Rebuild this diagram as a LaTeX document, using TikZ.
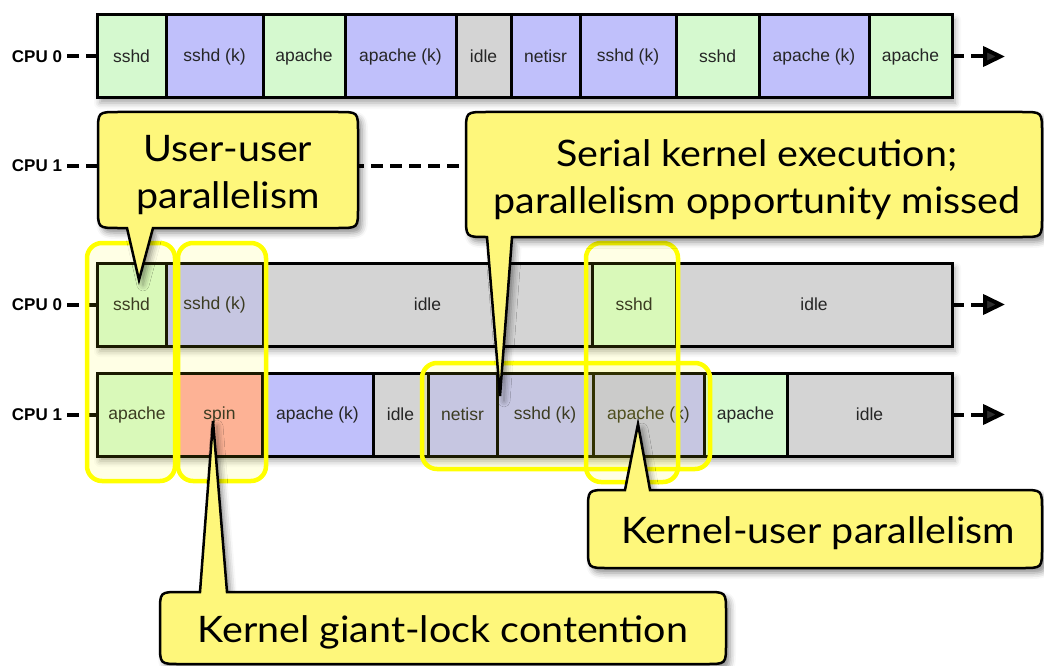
\documentclass[tikz,border=0pt]{standalone}
\usepackage{fontspec}
\setmainfont{Liberation Sans}
\newfontfamily\callfont{Lato}[FakeStretch=1.08]
\usetikzlibrary{shadows.blur,arrows.meta}

\definecolor{usr}{RGB}{213,249,207}
\definecolor{krn}{RGB}{192,192,251}
\definecolor{idl}{RGB}{212,212,212}
\definecolor{spn}{RGB}{253,170,166}
\definecolor{hil}{RGB}{255,255,0}
\definecolor{bub}{RGB}{254,247,123}

\tikzset{
  cellbox/.style={draw=black, line width=3pt, rectangle, minimum height=83pt,
    inner sep=0pt, outer sep=0pt, anchor=north west, text=black!85,
    font=\fontsize{17.5}{20}\selectfont},
  cpulabel/.style={anchor=east, inner sep=0pt, outer sep=0pt,
    font=\fontsize{17}{20}\selectfont\bfseries},
  timeline/.style={line width=4pt, dash pattern=on 12pt off 7pt, shorten <=5pt},
  rowshade/.style={fill=white, blur shadow={shadow xshift=3pt, shadow yshift=-5pt,
    shadow blur radius=6pt, shadow opacity=35}},
  hilite/.style={draw=hil, line width=4.5pt, rounded corners=15pt, fill=hil, fill opacity=0.1},
  bubble/.style={draw=black, line width=2.5pt, fill=bub, line join=miter,
    blur shadow={shadow xshift=4pt, shadow yshift=-5pt, shadow blur radius=6pt, shadow opacity=45}},
  bubtext/.style={font=\callfont\fontsize{36.5}{47}\selectfont, align=center, inner sep=0pt},
}

% name, left x, right x, top y, fill, label
\newcommand\cpucell[6]{\node[cellbox, fill=#5, minimum width={#3pt-#2pt}] (#1) at (#2,#4) {#6};}

\begin{document}
\begin{tikzpicture}[x=1pt, y=-1pt]
\useasboundingbox (0,0) rectangle (1044,666);

% ---------- upper trace: CPU 0 busy, CPU 1 idle ----------
\path[rowshade] (97,15) rectangle (952,98);
\cpucell{a1}{97}{166}{15}{usr}{sshd}
\cpucell{a2}{166}{263}{15}{krn}{sshd (k)}
\cpucell{a3}{263}{345}{15}{usr}{apache}
\cpucell{a4}{345}{456}{15}{krn}{apache (k)}
\cpucell{a5}{456}{511}{15}{idl}{idle}
\cpucell{a6}{511}{580}{15}{krn}{netisr}
\cpucell{a7}{580}{676}{15}{krn}{sshd (k)}
\cpucell{a8}{676}{759}{15}{usr}{sshd}
\cpucell{a9}{759}{869}{15}{krn}{apache (k)}
\cpucell{a10}{869}{952}{15}{usr}{apache}

\node[cpulabel] (la0) at (62,56.5) {CPU 0};
\node[cpulabel] (la1) at (62,166) {CPU 1};
\coordinate (ea0) at (1005,56.5);
\coordinate (ea1) at (952,166);
\draw[timeline] (la0.east) -- (a1.west);
\draw[timeline, shorten <=0pt, -{Triangle[length=22pt,width=20pt]}] (a10.east) -- (ea0);
\draw[timeline] (la1.east) -- (ea1);

% ---------- lower trace: both CPUs ----------
\path[rowshade] (97,263) rectangle (952,346);
\path[rowshade] (97,373) rectangle (952,456);
\cpucell{b1}{97}{166}{263}{usr}{sshd}
\cpucell{b2}{166}{263}{263}{krn}{sshd (k)}
\cpucell{b3}{263}{592}{263}{idl}{idle}
\cpucell{b4}{592}{676}{263}{usr}{sshd}
\cpucell{b5}{676}{952}{263}{idl}{idle}

\cpucell{c1}{97}{177}{373}{usr}{apache}
\cpucell{c2}{177}{262}{373}{spn}{spin}
\cpucell{c3}{262}{373}{373}{krn}{apache (k)}
\cpucell{c4}{373}{428}{373}{idl}{idle}
\cpucell{c5}{428}{497}{373}{krn}{netisr}
\cpucell{c6}{497}{593}{373}{krn}{sshd (k)}
\cpucell{c7}{593}{704}{373}{krn}{apache (k)}
\cpucell{c8}{704}{787}{373}{usr}{apache}
\cpucell{c9}{787}{952}{373}{idl}{idle}

\node[cpulabel] (lb0) at (62,304.5) {CPU 0};
\node[cpulabel] (lb1) at (62,414.5) {CPU 1};
\coordinate (eb0) at (1005,304.5);
\coordinate (eb1) at (1005,414.5);
\draw[timeline] (lb0.east) -- (b1.west);
\draw[timeline] (lb1.east) -- (c1.west);
\draw[timeline, shorten <=0pt, -{Triangle[length=22pt,width=20pt]}] (b5.east) -- (eb0);
\draw[timeline, shorten <=0pt, -{Triangle[length=22pt,width=20pt]}] (c9.east) -- (eb1);

% ---------- highlighted regions ----------
\path[hilite] (87,243) rectangle (175,481);
\path[hilite] (178,243) rectangle (266,481);
\path[hilite] (422,363) rectangle (710,469);
\path[hilite] (586,243) rectangle (678,482);

% ---------- callouts ----------
\coordinate (t1) at (139,280);
\coordinate (t2) at (500,396);
\coordinate (t3) at (638,424);
\coordinate (t4) at (213,421);

\path[bubble] (t1) -- (153,228) -- (338,228) .. controls (358,228) .. (358,208)
  -- (358,132) .. controls (358,112) .. (338,112) -- (118,112)
  .. controls (98,112) .. (98,132) -- (98,208) .. controls (98,228) .. (118,228)
  -- (127,228) -- cycle;
\node[bubtext] (n1) at (228,175) {User-user\\parallelism};

\path[bubble] (t2) -- (512,237) -- (1022,237) .. controls (1042,237) .. (1042,217)
  -- (1042,132) .. controls (1042,112) .. (1022,112) -- (486,112)
  .. controls (466,112) .. (466,132) -- (466,217) .. controls (466,237) .. (486,237)
  -- (487,237) -- cycle;
\node[bubtext] (n2) at (757,180) {Serial kernel execution;\\parallelism opportunity missed};

\path[bubble] (t3) -- (650,490) -- (1022,490) .. controls (1042,490) .. (1042,510)
  -- (1042,548) .. controls (1042,568) .. (1022,568) -- (608,568)
  .. controls (588,568) .. (588,548) -- (588,510) .. controls (588,490) .. (608,490)
  -- (625,490) -- cycle;
\node[bubtext] (n3) at (818,533) {Kernel-user parallelism};

\path[bubble] (t4) -- (227,592) -- (706,592) .. controls (726,592) .. (726,612)
  -- (726,644) .. controls (726,664) .. (706,664) -- (180,664)
  .. controls (160,664) .. (160,644) -- (160,612) .. controls (160,592) .. (180,592)
  -- (200,592) -- cycle;
\node[bubtext] (n4) at (443,632) {Kernel giant-lock contention};
\end{tikzpicture}
\end{document}
